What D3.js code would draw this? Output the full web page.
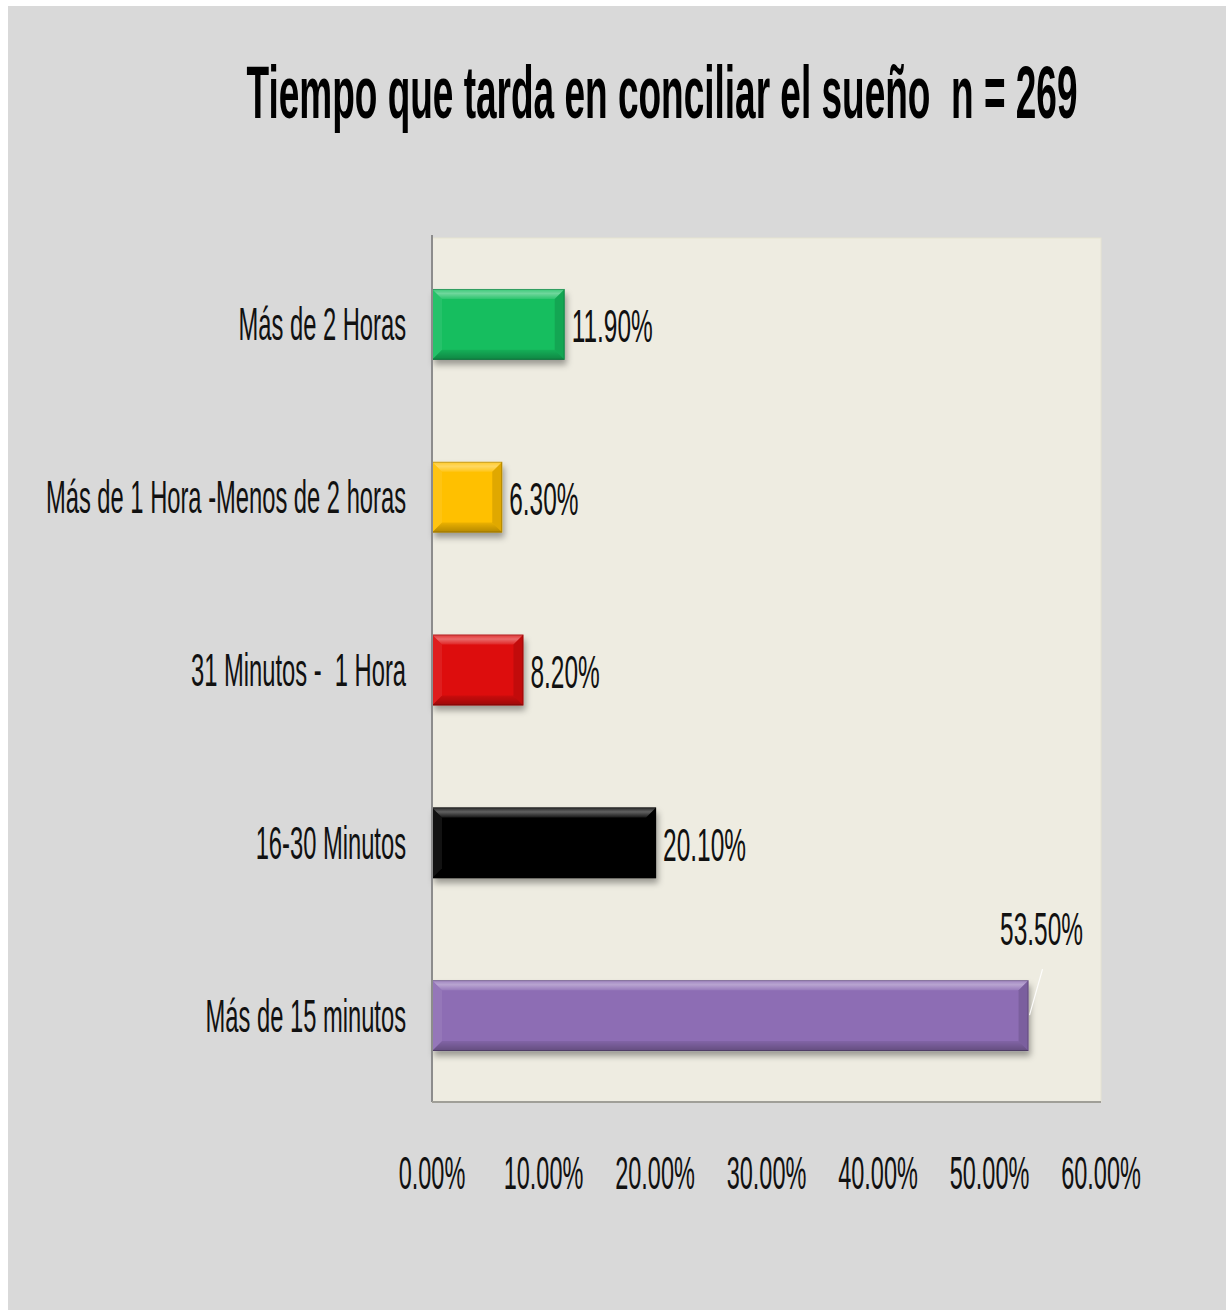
<!DOCTYPE html>
<html>
<head>
<meta charset="utf-8">
<script src="https://cdn.jsdelivr.net/npm/d3@7/dist/d3.min.js"></script>
<style>
  html, body { margin: 0; padding: 0; background: #ffffff; }
  svg { display: block; }
  text { font-family: "Liberation Sans", Arial, sans-serif; white-space: pre; }
</style>
</head>
<body>
<svg id="chart" width="1226" height="1310"></svg>
<script>
// Data
const titleText = "Tiempo que tarda en conciliar el sueño  n = 269";
const categories = [
  "Más de 2 Horas",
  "Más de 1 Hora -Menos de 2 horas",
  "31 Minutos -  1 Hora",
  "16-30 Minutos",
  "Más de 15 minutos"
];
const values = [11.9, 6.3, 8.2, 20.1, 53.5];
const valueLabels = ["11.90%", "6.30%", "8.20%", "20.10%", "53.50%"];
const barColors = ["#14be5f", "#ffc000", "#dd0b0b", "#050505", "#8d6db4"];
const tickValues = [0, 10, 20, 30, 40, 50, 60];

const svg = d3.select("#chart");
const W = 1226, H = 1310;
const plot = { left: 432, right: 1101, top: 238, bottom: 1102 };
const SX = 0.5;         // horizontal condensing of the narrow label font
const FS = 47;          // label font size

// Background
svg.append("rect").attr("x", 8).attr("y", 6).attr("width", W - 8).attr("height", H - 6)
  .attr("fill", "#d9d9d9");
svg.append("rect")
  .attr("x", plot.left).attr("y", plot.top)
  .attr("width", plot.right - plot.left).attr("height", plot.bottom - plot.top)
  .attr("fill", "#eeece1")
  .attr("stroke", "#e6e3d2").attr("stroke-width", 1);

// Filters and gradients
const defs = svg.append("defs");
const f = defs.append("filter").attr("id", "shadow")
  .attr("x", "-10%").attr("y", "-20%").attr("width", "130%").attr("height", "160%");
f.append("feDropShadow").attr("dx", 2).attr("dy", 5).attr("stdDeviation", 3)
  .attr("flood-color", "#000").attr("flood-opacity", 0.35);
const hi = defs.append("linearGradient").attr("id", "topHi")
  .attr("x1", 0).attr("y1", 0).attr("x2", 0).attr("y2", 1);
hi.append("stop").attr("offset", "0%").attr("stop-color", "#fff").attr("stop-opacity", 0.15);
hi.append("stop").attr("offset", "45%").attr("stop-color", "#fff").attr("stop-opacity", 0.38);
hi.append("stop").attr("offset", "100%").attr("stop-color", "#fff").attr("stop-opacity", 0.1);
const lo = defs.append("linearGradient").attr("id", "botLo")
  .attr("x1", 0).attr("y1", 0).attr("x2", 0).attr("y2", 1);
lo.append("stop").attr("offset", "0%").attr("stop-color", "#000").attr("stop-opacity", 0.08);
lo.append("stop").attr("offset", "100%").attr("stop-color", "#000").attr("stop-opacity", 0.3);

// Scales
const x = d3.scaleLinear().domain([0, 60]).range([plot.left, plot.right]);
const y = d3.scaleBand().domain(categories).range([plot.top, plot.bottom])
  .paddingInner(0.59).paddingOuter(0.295);

// Condensed text helper
function label(g, str, tx, ty, opts = {}) {
  return g.append("text")
    .attr("transform", `translate(${tx},${ty}) scale(${opts.sx || SX},1)`)
    .attr("text-anchor", opts.anchor || "start")
    .attr("font-size", opts.size || FS)
    .attr("font-weight", opts.weight || "normal")
    .attr("fill", opts.fill || "#111")
    .text(str);
}

// Bars with bevel
const bars = svg.append("g");
const data = categories.map((c, i) => ({ c, v: values[i], lab: valueLabels[i], col: barColors[i] }));
const b = 10;
data.forEach(d => {
  const x0 = x(0), x1 = x(d.v), y0 = y(d.c), y1 = y0 + y.bandwidth();
  const g = bars.append("g");
  g.append("rect").attr("x", x0).attr("y", y0).attr("width", x1 - x0).attr("height", y1 - y0)
    .attr("fill", d.col).attr("filter", "url(#shadow)");
  const poly = (pts, fill, op) => g.append("polygon")
    .attr("points", pts.map(p => p.join(",")).join(" "))
    .attr("fill", fill).attr("fill-opacity", op);
  poly([[x0, y0], [x1, y0], [x1 - b, y0 + b], [x0 + b, y0 + b]], "url(#topHi)", 1);
  poly([[x0, y1], [x1, y1], [x1 - b, y1 - b], [x0 + b, y1 - b]], "url(#botLo)", 1);
  poly([[x0, y0], [x0 + b, y0 + b], [x0 + b, y1 - b], [x0, y1]], "#ffffff", 0.07);
  poly([[x1, y0], [x1 - b, y0 + b], [x1 - b, y1 - b], [x1, y1]], "#000000", 0.12);
  g.append("rect").attr("x", x0 + 0.5).attr("y", y0 + 0.5)
    .attr("width", x1 - x0 - 1).attr("height", y1 - y0 - 1)
    .attr("fill", "none").attr("stroke", "#000").attr("stroke-opacity", 0.22);
});

// Axis lines
svg.append("line").attr("x1", plot.left).attr("x2", plot.left)
  .attr("y1", plot.top - 3).attr("y2", plot.bottom)
  .attr("stroke", "#8c8c8c").attr("stroke-width", 2);
svg.append("line").attr("x1", plot.left).attr("x2", plot.right)
  .attr("y1", plot.bottom).attr("y2", plot.bottom)
  .attr("stroke", "#a09f98").attr("stroke-width", 2);

// Category labels
const catG = svg.append("g");
data.forEach(d => {
  label(catG, d.c, 406, y(d.c) + y.bandwidth() / 2 + 16, { anchor: "end", sx: 0.505 });
});

// Value labels
const valG = svg.append("g");
const vmax = d3.max(values);
data.forEach(d => {
  const xe = x(d.v), yc = y(d.c) + y.bandwidth() / 2;
  if (d.v === vmax) {
    const yt = y(d.c);
    valG.append("line").attr("x1", xe + 1).attr("y1", yt + 35).attr("x2", xe + 14).attr("y2", yt - 11)
      .attr("stroke", "#ffffff").attr("stroke-opacity", 0.9).attr("stroke-width", 1.2);
    label(valG, d.lab, xe + 13, yt - 35, { anchor: "middle", sx: 0.52 });
  } else {
    label(valG, d.lab, xe + 7, yc + 18, { sx: 0.52 });
  }
});

// X tick labels
const tickG = svg.append("g");
tickValues.forEach(t => {
  label(tickG, d3.format(".2f")(t) + "%", x(t), 1189, { anchor: "middle" });
});

// Title, fitted to its width
const title = svg.append("text")
  .attr("font-size", 74).attr("font-weight", "bold").attr("fill", "#000")
  .attr("text-anchor", "middle").text(titleText);
const tw = title.node().getComputedTextLength();
title.attr("transform", `translate(662,118) scale(${831 / tw},1)`);
</script>
</body>
</html>
